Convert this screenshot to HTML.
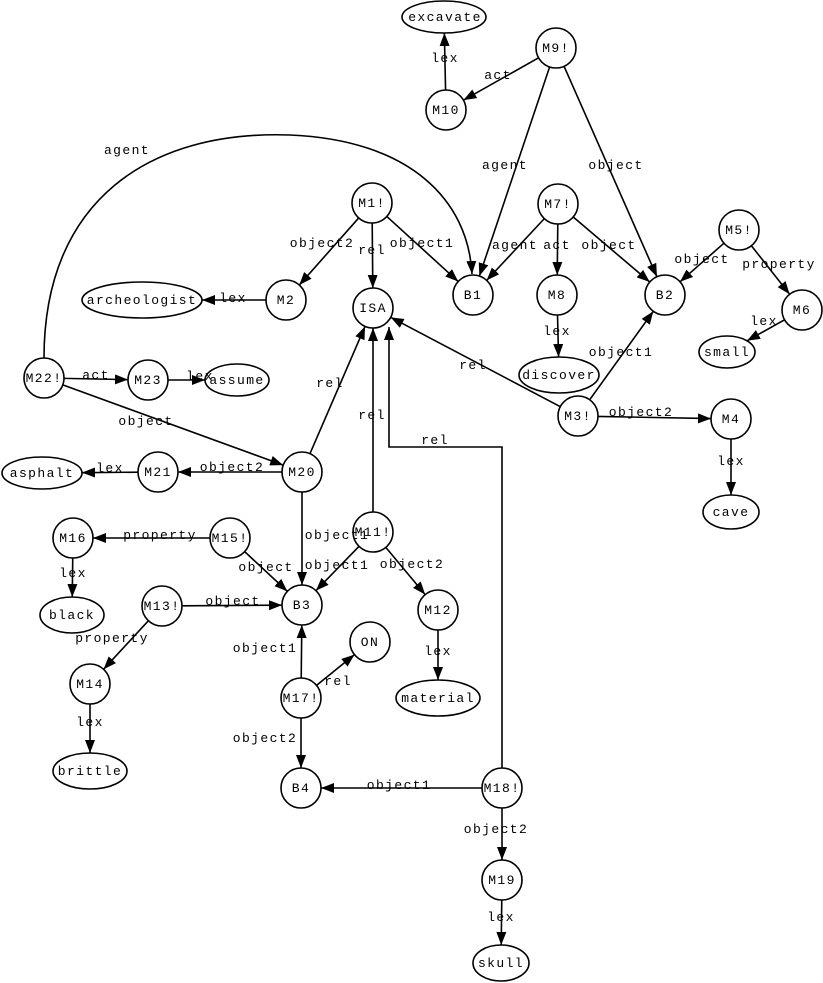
<!DOCTYPE html>
<html><head><meta charset="utf-8"><style>
html,body{margin:0;padding:0;background:#fff;}
svg{display:block;font-family:"Liberation Mono",monospace;}
text{font-size:13px;fill:#000;letter-spacing:1.4px;}
</style></head><body>
<svg id="g" width="823" height="983" viewBox="0 0 823 983" xmlns="http://www.w3.org/2000/svg">
<defs><marker id="a" markerWidth="14" markerHeight="12" refX="13" refY="5" orient="auto" markerUnits="userSpaceOnUse"><path d="M0,0 L13,5 L0,10 z" fill="#000"/></marker></defs>
<g id="edges" stroke="#000" stroke-width="1.6" fill="none">
<path d="M44,358 C44,200 150,130 290,135 C410,140 468,200 472,274" marker-end="url(#a)"/>
<polyline points="502,768 502,447 389,447 389,327" marker-end="url(#a)"/>
</g>
<g id="nodes" stroke="#000" stroke-width="1.6" fill="#fff"></g>
<g text-anchor="middle">
<text x="445" y="21">excavate</text><text x="556" y="52">M9!</text><text x="446" y="114">M10</text>
<text x="372" y="207">M1!</text><text x="558" y="208">M7!</text><text x="739" y="234">M5!</text>
<text x="142" y="304">archeologist</text><text x="286" y="304">M2</text><text x="373" y="312">ISA</text>
<text x="473" y="299">B1</text><text x="557" y="299">M8</text><text x="665" y="299">B2</text>
<text x="802" y="314">M6</text><text x="727" y="356">small</text><text x="559" y="379">discover</text>
<text x="44" y="382">M22!</text><text x="148" y="384">M23</text><text x="237" y="384">assume</text>
<text x="578" y="420">M3!</text><text x="731" y="423">M4</text><text x="42" y="477">asphalt</text>
<text x="158" y="476">M21</text><text x="302" y="476">M20</text><text x="731" y="516">cave</text>
<text x="73" y="542">M16</text><text x="230" y="542">M15!</text><text x="373" y="536">M11!</text>
<text x="72" y="619">black</text><text x="162" y="610">M13!</text><text x="302" y="609">B3</text>
<text x="438" y="614">M12</text><text x="370" y="646">ON</text><text x="90" y="688">M14</text>
<text x="301" y="702">M17!</text><text x="438" y="702">material</text><text x="90" y="775">brittle</text>
<text x="301" y="792">B4</text><text x="502" y="792">M18!</text><text x="502" y="884">M19</text>
<text x="501" y="967">skull</text>
</g>
<g text-anchor="middle">
<text x="445" y="62">lex</text><text x="498" y="79">act</text><text x="505" y="169">agent</text>
<text x="616" y="169">object</text><text x="127" y="154">agent</text><text x="322" y="247">object2</text>
<text x="372" y="254">rel</text><text x="422" y="247">object1</text><text x="515" y="249">agent</text>
<text x="557" y="249">act</text><text x="609" y="249">object</text><text x="702" y="263">object</text>
<text x="779" y="268">property</text><text x="764" y="325">lex</text><text x="233" y="302">lex</text>
<text x="557" y="335">lex</text><text x="96" y="379">act</text><text x="200" y="380">lex</text>
<text x="146" y="425">object</text><text x="330" y="387">rel</text><text x="473" y="369">rel</text>
<text x="621" y="356">object1</text><text x="641" y="416">object2</text><text x="731" y="465">lex</text>
<text x="110" y="472">lex</text><text x="232" y="471">object2</text><text x="372" y="419">rel</text>
<text x="435" y="444">rel</text><text x="337" y="539">object1</text><text x="337" y="569">object1</text>
<text x="412" y="568">object2</text><text x="160" y="539">property</text><text x="266" y="571">object</text>
<text x="73" y="577">lex</text><text x="233" y="605">object</text><text x="112" y="642">property</text>
<text x="90" y="726">lex</text><text x="438" y="655">lex</text><text x="265" y="652">object1</text>
<text x="338" y="685">rel</text><text x="265" y="742">object2</text><text x="399" y="789">object1</text>
<text x="496" y="833">object2</text><text x="501" y="921">lex</text>
</g>
</svg>
<script>
var N={excavate:[444,17,42,16],'M9!':[556,48],M10:[446,110],'M1!':[372,203],'M7!':[558,204],'M5!':[739,230],
archeologist:[142,300,60,18],M2:[286,300],ISA:[373,308],B1:[473,295],M8:[557,295],B2:[665,295],M6:[802,310],
small:[727,352,28,16],discover:[559,375,40,18],'M22!':[44,378],M23:[148,380],assume:[237,380,32,16],
'M3!':[578,416],M4:[731,419],asphalt:[42,473,40,16],M21:[158,472],M20:[302,472],cave:[731,512,28,17],
M16:[73,538],'M15!':[230,538],'M11!':[373,532],black:[72,615,32,18],'M13!':[162,606],B3:[302,605],
M12:[438,610],ON:[370,642],M14:[90,684],'M17!':[301,698],material:[438,698,42,18],brittle:[90,771,37,18],
B4:[301,788],'M18!':[502,788],M19:[502,880],skull:[501,963,28,18]};
var E=[['M10','excavate'],['M9!','M10'],['M9!','B1'],['M9!','B2'],['M1!','M2'],['M1!','ISA'],['M1!','B1'],
['M7!','B1'],['M7!','M8'],['M7!','B2'],['M5!','B2'],['M5!','M6'],['M6','small'],['M2','archeologist'],
['M8','discover'],['M22!','M23'],['M23','assume'],['M22!','M20'],['M20','ISA'],['M3!','ISA'],['M3!','B2'],
['M3!','M4'],['M4','cave'],['M21','asphalt'],['M20','M21'],['M11!','ISA'],['M20','B3'],['M11!','B3'],
['M11!','M12'],['M15!','M16'],['M15!','B3'],['M16','black'],['M13!','B3'],['M13!','M14'],['M14','brittle'],
['M12','material'],['M17!','B3'],['M17!','ON'],['M17!','B4'],['M18!','B4'],['M18!','M19'],['M19','skull']];
var ns='http://www.w3.org/2000/svg';
function R(n){var v=N[n];return [v[2]||20,v[3]||20];}
function bd(n,dx,dy){var r=R(n),t=1/Math.sqrt((dx/r[0])*(dx/r[0])+(dy/r[1])*(dy/r[1]));return [N[n][0]+dx*t,N[n][1]+dy*t];}
var ge=document.getElementById('edges');
E.forEach(function(e){var a=N[e[0]],b=N[e[1]],dx=b[0]-a[0],dy=b[1]-a[1];
var p=bd(e[0],dx,dy),q=bd(e[1],-dx,-dy);var l=document.createElementNS(ns,'line');
l.setAttribute('x1',p[0]);l.setAttribute('y1',p[1]);l.setAttribute('x2',q[0]);l.setAttribute('y2',q[1]);
l.setAttribute('marker-end','url(#a)');ge.appendChild(l);});
var gn=document.getElementById('nodes');
for(var k in N){var v=N[k],r=R(k),el=document.createElementNS(ns,'ellipse');
el.setAttribute('cx',v[0]);el.setAttribute('cy',v[1]);el.setAttribute('rx',r[0]);el.setAttribute('ry',r[1]);gn.appendChild(el);}
</script>
</body></html>
